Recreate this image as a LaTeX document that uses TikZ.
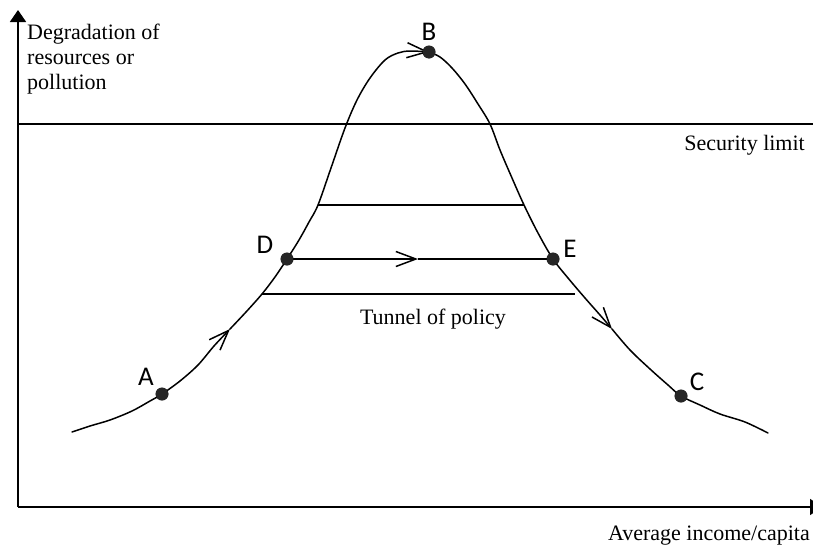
\documentclass[tikz,border=0pt]{standalone}
\usepackage{fontspec}
\setmainfont{Liberation Serif}
\newfontfamily\labfont{Carlito}
\usetikzlibrary{arrows.meta}
\begin{document}
\begin{tikzpicture}[x=1pt,y=-1pt,
  curve/.style={line width=1.5pt, line join=round, line cap=round},
  barb/.style={curve,-{Straight Barb[length=20pt,width=15pt,line width=1.5pt]}},
  axis/.style={line width=1.8pt,-{Triangle[length=12pt,width=16pt]}},
  dot/.style={circle,fill=black!85,inner sep=0pt,minimum size=13pt},
  lab/.style={font=\labfont\fontsize{27}{30}\selectfont, inner sep=0pt, anchor=base},
  txt/.style={font=\fontsize{22}{25}\selectfont, inner sep=0pt},
  hline/.style={line width=1.5pt},
]
\useasboundingbox (0,0) rectangle (813,544);
\clip (0,0) rectangle (813,544);

% axes
\coordinate (O) at (18,507);
\coordinate (ytop) at (18,10);
\coordinate (xend) at (822,507);
\draw[axis] (O) -- (ytop);
\draw[axis] (O) -- (xend);

% security limit
\coordinate (s1) at (18,124);
\coordinate (s2) at (813,124);
\draw[hline] (s1) -- (s2);

% points
\node[dot] (A) at (162,394) {};
\node[dot] (B) at (429,52) {};
\node[dot] (C) at (681,396) {};
\node[dot] (D) at (287,259) {};
\node[dot] (E) at (553,259) {};
\coordinate (t1) at (230,329);
\coordinate (t3) at (612,329);
\coordinate (tm) at (418,259);

% curve
\draw[barb] plot[smooth, tension=0.55] coordinates {(72,432) (90,426) (110,420) (132,411) (150,401) (A.center) (180,381) (198,365) (214,346) (t1)};
\draw[barb] plot[smooth, tension=0.55] coordinates {(t1) (246,312) (262,294) (275,277) (D.center) (299,240) (309,222) (318,205) (331,168) (345,128) (357,100) (370,78) (385,60) (398,53) (410,51) (B.center)};
\draw[barb] plot[smooth, tension=0.55] coordinates {(B.center) (440,57) (452,68) (465,84) (478,104) (490,124) (500,150) (512,178) (524,205) (538,233) (E.center) (568,278) (585,298) (600,315) (t3)};
\draw[curve] plot[smooth, tension=0.55] coordinates {(t3) (630,350) (650,369) (668,385) (C.center) (700,405) (720,414) (745,422) (768,433)};

% tunnel lines
\coordinate (u1) at (318,205);
\coordinate (u2) at (524,205);
\coordinate (l1) at (262,294);
\coordinate (l2) at (575,294);
\draw[hline] (u1) -- (u2);
\draw[hline] (l1) -- (l2);
\draw[barb] (D.center) -- (tm);
\draw[hline] (tm) -- (E.center);

% redraw dots on top
\fill[black!85] (A) circle[radius=6.3pt];
\fill[black!85] (B) circle[radius=6.3pt];
\fill[black!85] (C) circle[radius=6.3pt];
\fill[black!85] (D) circle[radius=6.3pt];
\fill[black!85] (E) circle[radius=6.3pt];

% letter labels
\node[lab] (lA) at (146,385) {A};
\node[lab] (lB) at (429,40) {B};
\node[lab] (lC) at (697,390) {C};
\node[lab] (lD) at (265,253) {D};
\node[lab] (lE) at (570,257) {E};

% texts
\node[txt, anchor=north west, align=left] (ylab) at (27,24) {Degradation of\\resources or\\pollution};
\node[txt, anchor=base east] (sec) at (805,150) {Security limit};
\node[txt, anchor=base] (tun) at (433,324) {Tunnel of policy};
\node[txt, anchor=base east] (xlab) at (810,540) {Average income/capita};
\end{tikzpicture}
\end{document}
